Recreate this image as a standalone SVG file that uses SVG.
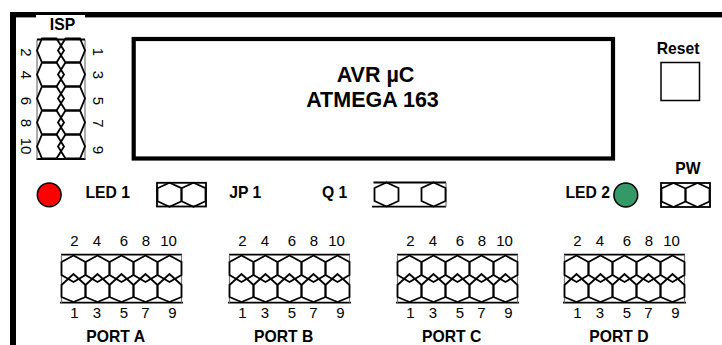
<svg xmlns="http://www.w3.org/2000/svg" width="722" height="345" viewBox="0 0 722 345">
<style>
text{font-family:"Liberation Sans",Arial,sans-serif;fill:#000}
.b{font-weight:bold;font-size:15.7px}
.m{text-anchor:middle}
.t{font-weight:bold;font-size:21.5px;text-anchor:middle}
.n{font-size:15px;text-anchor:middle}
.h{fill:none;stroke:#000;stroke-width:1.8}
.r{fill:none;stroke:#000;stroke-width:1.8}
.l{fill:none;stroke:#777;stroke-width:1.2}
</style>
<defs>
<path id="up" class="h" d="M-12-6.500L0-13L12-6.500V6.500L0 13.500L-12 6.500Z"/>
<path id="lo" class="h" d="M-12-3L0-14L12-3V9L0 14L-12 9Z"/>
<path id="hs" class="h" d="M-12-6.500L0-12L12-6.500V6.500L0 12L-12 6.500Z"/>
<path id="il" class="h" d="M37 0L42-12H56.500L64 0L56.500 12H42Z"/>
<path id="ir" class="h" d="M58 0L65.500-12H80L85 0L80 12H65.500Z"/>
<g id="port">
<path class="r" d="M61 254.700H182M60 302.700H183"/>
<path class="l" d="M61.500 254.700V302.700M181.500 254.700V302.700"/>
<use href="#up" x="73.500" y="268.500"/><use href="#up" x="97.500" y="268.500"/><use href="#up" x="121.500" y="268.500"/><use href="#up" x="145.500" y="268.500"/><use href="#up" x="169.500" y="268.500"/>
<use href="#lo" x="73.500" y="288"/><use href="#lo" x="97.500" y="288"/><use href="#lo" x="121.500" y="288"/><use href="#lo" x="145.500" y="288"/><use href="#lo" x="169.500" y="288"/>
<text class="n" x="74.500" y="246">2</text><text class="n" x="97" y="246">4</text><text class="n" x="124" y="246">6</text><text class="n" x="146" y="246">8</text><text class="n" x="168.500" y="246">10</text>
<text class="n" x="74.500" y="318">1</text><text class="n" x="97" y="318">3</text><text class="n" x="124" y="318">5</text><text class="n" x="145.500" y="318">7</text><text class="n" x="172.500" y="318">9</text>
</g>
</defs>
<rect width="722" height="345" fill="#fff"/>
<g id="frame"><rect x="10" y="12" width="712" height="5.400" fill="#000"/><rect x="10" y="12" width="6" height="333" fill="#000"/><rect x="36" y="15" width="49" height="3" fill="#fff"/></g>
<g id="connectors"></g>
<g id="isp">
<path class="r" d="M36.500 159H85.500"/>
<path class="l" d="M37 39.500V159M85 39.500V159"/>
<path class="h" d="M37 39.500H85"/>
<use href="#il" y="50.500"/><use href="#ir" y="50.500"/>
<use href="#il" y="74.500"/><use href="#ir" y="74.500"/>
<use href="#il" y="98.500"/><use href="#ir" y="98.500"/>
<use href="#il" y="122.500"/><use href="#ir" y="122.500"/>
<use href="#il" y="146.500"/><use href="#ir" y="146.500"/>
<text class="b m" x="62.500" y="30">ISP</text>
<text class="n" transform="translate(20.500 52.500) rotate(90)">2</text><text class="n" transform="translate(20.500 75) rotate(90)">4</text><text class="n" transform="translate(20.500 101) rotate(90)">6</text><text class="n" transform="translate(20.500 123) rotate(90)">8</text><text class="n" transform="translate(20.500 146) rotate(90)">10</text>
<text class="n" transform="translate(93 52) rotate(90)">1</text><text class="n" transform="translate(93 75) rotate(90)">3</text><text class="n" transform="translate(93 101) rotate(90)">5</text><text class="n" transform="translate(93 123.500) rotate(90)">7</text><text class="n" transform="translate(93 150) rotate(90)">9</text>
</g>
<g id="mcu"><rect x="133.700" y="39" width="479.300" height="119.500" fill="none" stroke="#000" stroke-width="4.200"/>
<text class="t" x="375.500" y="82">AVR µC</text><text class="t" x="372.500" y="107">ATMEGA 163</text></g>
<g id="reset"><rect x="661" y="62.500" width="38.500" height="38" fill="none" stroke="#000" stroke-width="1.500"/><text class="b m" x="678" y="54">Reset</text></g>
<g id="led1"><circle cx="49.200" cy="194.800" r="11.900" fill="#f00" stroke="#000" stroke-width="1.500"/><text class="b" x="85.500" y="198">LED 1</text></g>
<g id="jp1"><rect class="r" x="157" y="182.800" width="49" height="23.700"/><use href="#hs" x="169.500" y="194.700"/><use href="#hs" x="193.500" y="194.700"/><text class="b" x="229.300" y="198">JP 1</text></g>
<g id="q1"><path class="r" d="M372 206.700H446"/><path class="r" d="M373.500 182.500H446"/><path class="l" d="M446 182.500V206.700"/><use href="#hs" x="386.500" y="194.500"/><use href="#hs" x="433.500" y="194.500"/><text class="b" x="322" y="198">Q 1</text></g>
<g id="led2"><text class="b" x="565.500" y="198">LED 2</text><circle cx="625.800" cy="195" r="11.900" fill="#339966" stroke="#000" stroke-width="1.500"/></g>
<g id="pw"><rect class="r" x="661" y="183" width="49" height="24"/><use href="#hs" x="673.500" y="195"/><use href="#hs" x="697.500" y="195"/><text class="b m" x="688" y="174">PW</text></g>
<g id="port-a"><use href="#port"/><text class="b m" x="115.700" y="341.500">PORT A</text></g>
<g id="port-b"><use href="#port" x="168"/><text class="b m" x="283.700" y="341.500">PORT B</text></g>
<g id="port-c"><use href="#port" x="336"/><text class="b m" x="451.700" y="341.500">PORT C</text></g>
<g id="port-d"><use href="#port" x="503"/><text class="b m" x="619" y="341.500">PORT D</text></g>
</svg>
